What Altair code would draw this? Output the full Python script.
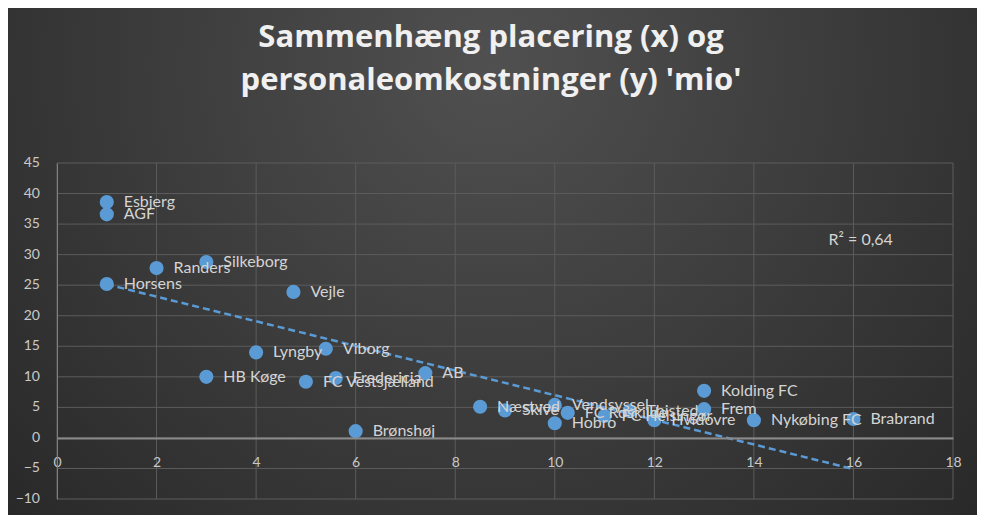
import altair as alt
import pandas as pd

teams = ["Esbjerg", "AGF", "Randers", "Silkeborg", "Horsens", "Vejle", "Lyngby", "Viborg",
         "HB Køge", "FC Vestsjælland", "Fredericia", "AB", "Brønshøj", "Næstved", "Skive",
         "Vendsyssel", "FC Roskilde", "Hobro", "FC Helsingør", "Thisted", "Hvidovre",
         "Kolding FC", "Frem", "Nykøbing FC", "Brabrand"]
placering = [1, 1, 2, 3, 1, 4.75, 4, 5.4, 3, 5, 5.6, 7.4, 6, 8.5, 9, 10, 10.26, 10, 11,
             11.5, 12, 13, 13, 14, 16]
omkostninger = [38.6, 36.6, 27.8, 28.8, 25.2, 23.9, 14.0, 14.6, 10.0, 9.2, 9.8, 10.6, 1.1,
                5.1, 4.5, 5.4, 4.1, 2.4, 3.6, 4.4, 2.9, 7.7, 4.7, 2.9, 3.1]

x_ticks = [0, 2, 4, 6, 8, 10, 12, 14, 16, 18]
y_ticks = [-10, -5, 0, 5, 10, 15, 20, 25, 30, 35, 40, 45]
title_lines = ["Sammenhæng placering (x) og", "personaleomkostninger (y) 'mio'"]

W, H = 896, 336
PAD = {"left": 49, "top": 155, "right": 24, "bottom": 16}

df = pd.DataFrame({"hold": teams, "placering": placering, "omk": omkostninger})
gx = pd.DataFrame({"gx": x_ticks})
gy = pd.DataFrame({"gy": y_ticks})

FONT = "Lato"
BLUE = "#5b9bd5"
GRID = "#5c5c5c"
LABEL = "#c9c9c9"

xscale = alt.Scale(domain=[0, 18], nice=False, zero=False)
yscale = alt.Scale(domain=[-10, 45], nice=False, zero=False)

xaxis = alt.Axis(values=x_ticks, grid=False, ticks=False, offset=-61, labelPadding=17,
                 domainColor="#8a8a8a", domainWidth=2, labelColor=LABEL, labelFontSize=14,
                 labelFont=FONT, title=None, zindex=1, labelFlush=False, labelOverlap=False)
yaxis = alt.Axis(values=y_ticks, grid=False, ticks=False, labels=False,
                 domainColor="#808080", domainWidth=1, title=None, zindex=1)


def X(field):
    return alt.X(field, type="quantitative", scale=xscale, axis=xaxis)


def Y(field):
    return alt.Y(field, type="quantitative", scale=yscale, axis=yaxis)


bg = alt.Chart(alt.Data(values=[{}])).mark_rect(
    fill=alt.RadialGradient(gradient="radial", x1=0.5, y1=0.3, r1=0, x2=0.5, y2=0.3, r2=0.8,
                            stops=[alt.GradientStop(offset=0, color="#505050"),
                                   alt.GradientStop(offset=1, color="#222222")])
).encode(
    x=alt.value(-PAD["left"]), x2=alt.value(W + PAD["right"]),
    y=alt.value(-PAD["top"]), y2=alt.value(H + PAD["bottom"])
)

vgrid = alt.Chart(gx).mark_rule(color=GRID, strokeWidth=1).encode(
    x=X("gx"), y=alt.value(0), y2=alt.value(H)
)
hgrid = alt.Chart(gy).mark_rule(color=GRID, strokeWidth=1).encode(
    y=Y("gy"), x=alt.value(0), x2=alt.value(W)
)
ylabels = alt.Chart(gy).mark_text(align="right", baseline="middle", dx=-17, fontSize=14,
                                  font=FONT, color=LABEL).encode(
    y=Y("gy"), x=alt.value(0), text=alt.Text("gy:Q", format="d")
)

base = alt.Chart(df)

trend = base.transform_regression("placering", "omk", extent=[1, 16]).mark_line(
    color=BLUE, strokeWidth=2.5, strokeDash=[7, 4]
).encode(x=X("placering"), y=Y("omk"))

points = base.mark_circle(size=200, color=BLUE, opacity=1).encode(
    x=X("placering"), y=Y("omk")
)

labels = base.mark_text(align="left", baseline="middle", dx=17, fontSize=16, font=FONT,
                        color="#d4d4d4").encode(
    x=X("placering"), y=Y("omk"), text="hold:N"
)

r2 = base.transform_regression("placering", "omk", params=True).transform_calculate(
    txt="'R² = ' + replace(format(datum.rSquared, '.2f'), '.', ',')"
).mark_text(align="left", baseline="middle", fontSize=16, font=FONT, color="#d4d4d4").encode(
    x=alt.datum(15.5, scale=xscale), y=alt.datum(32.4, scale=yscale), text="txt:N"
)

chart = alt.layer(bg, vgrid, hgrid, ylabels, trend, points, labels, r2).properties(
    width=W, height=H,
    title=alt.TitleParams(text=title_lines, anchor="middle", frame="group", dx=-14,
                          offset=-89, fontSize=31, font="Open Sans", fontWeight="bold",
                          color="#f0f0f0", lineHeight=43),
    autosize=alt.AutoSizeParams(type="none"),
    padding=PAD,
).configure(background="#2b2b2b").configure_view(stroke=None)

chart.save("out.html", embed_options={"renderer": "svg", "actions": False})
